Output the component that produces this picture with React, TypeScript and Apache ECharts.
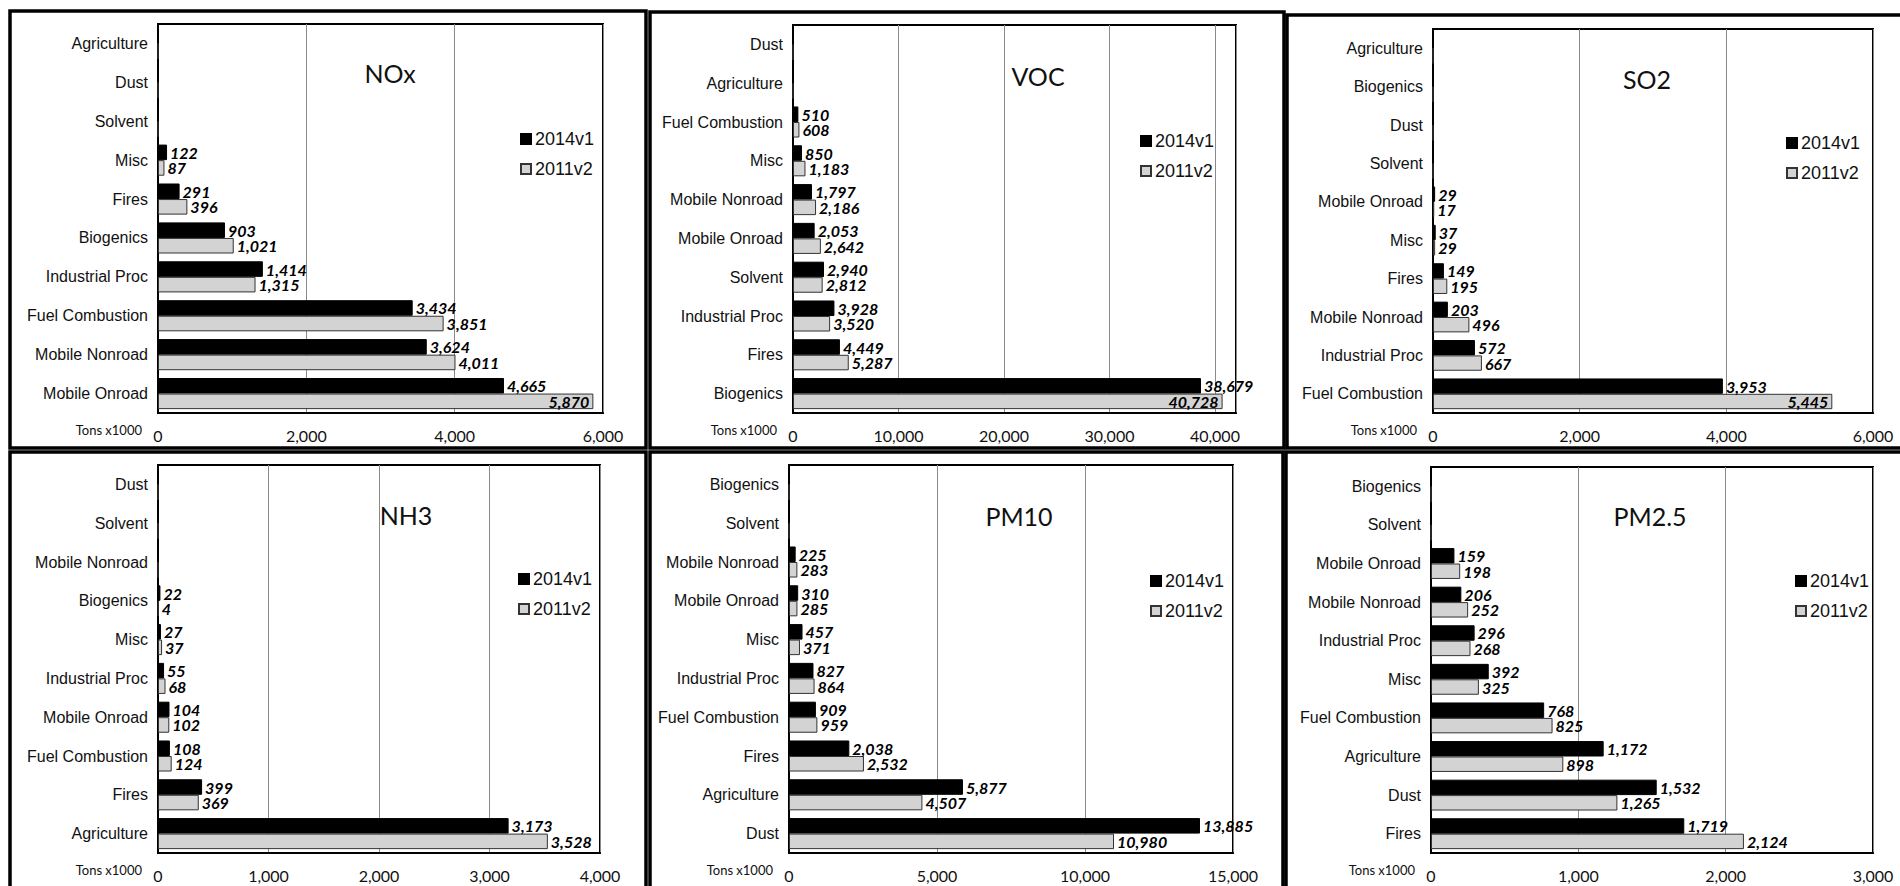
import React, { useEffect, useRef } from "react";
import * as echarts from "echarts";

// ---------- DATA (top-to-bottom order as displayed) ----------
const SERIES_NAMES = ["2014v1", "2011v2"];

const NOX_CATS = ["Agriculture", "Dust", "Solvent", "Misc", "Fires", "Biogenics", "Industrial Proc", "Fuel Combustion", "Mobile Nonroad", "Mobile Onroad"];
const NOX_2014 = [0, 0, 0, 122, 291, 903, 1414, 3434, 3624, 4665];
const NOX_2011 = [0, 0, 0, 87, 396, 1021, 1315, 3851, 4011, 5870];

const VOC_CATS = ["Dust", "Agriculture", "Fuel Combustion", "Misc", "Mobile Nonroad", "Mobile Onroad", "Solvent", "Industrial Proc", "Fires", "Biogenics"];
const VOC_2014 = [0, 0, 510, 850, 1797, 2053, 2940, 3928, 4449, 38679];
const VOC_2011 = [0, 0, 608, 1183, 2186, 2642, 2812, 3520, 5287, 40728];

const SO2_CATS = ["Agriculture", "Biogenics", "Dust", "Solvent", "Mobile Onroad", "Misc", "Fires", "Mobile Nonroad", "Industrial Proc", "Fuel Combustion"];
const SO2_2014 = [0, 0, 0, 0, 29, 37, 149, 203, 572, 3953];
const SO2_2011 = [0, 0, 0, 0, 17, 29, 195, 496, 667, 5445];

const NH3_CATS = ["Dust", "Solvent", "Mobile Nonroad", "Biogenics", "Misc", "Industrial Proc", "Mobile Onroad", "Fuel Combustion", "Fires", "Agriculture"];
const NH3_2014 = [0, 0, 0, 22, 27, 55, 104, 108, 399, 3173];
const NH3_2011 = [0, 0, 0, 4, 37, 68, 102, 124, 369, 3528];

const PM10_CATS = ["Biogenics", "Solvent", "Mobile Nonroad", "Mobile Onroad", "Misc", "Industrial Proc", "Fuel Combustion", "Fires", "Agriculture", "Dust"];
const PM10_2014 = [0, 0, 225, 310, 457, 827, 909, 2038, 5877, 13885];
const PM10_2011 = [0, 0, 283, 285, 371, 864, 959, 2532, 4507, 10980];

const PM25_CATS = ["Biogenics", "Solvent", "Mobile Onroad", "Mobile Nonroad", "Industrial Proc", "Misc", "Fuel Combustion", "Agriculture", "Dust", "Fires"];
const PM25_2014 = [0, 0, 159, 206, 296, 392, 768, 1172, 1532, 1719];
const PM25_2011 = [0, 0, 198, 252, 268, 325, 825, 898, 1265, 2124];

const UNIT_LABEL = "Tons x1000";

// ---------- LAYOUT / STYLE ----------
const PANELS = [
  { name: "NOx", cats: NOX_CATS, a: NOX_2014, b: NOX_2011, max: 6000, interval: 2000, inside: "Mobile Onroad",
    grid: { left: 158, top: 24, width: 445, height: 389 }, title: [390, 73], legend: [515, 125], frame: [10, 11, 636, 437] },
  { name: "VOC", cats: VOC_CATS, a: VOC_2014, b: VOC_2011, max: 42000, interval: 10000, inside: "Biogenics",
    grid: { left: 793, top: 25, width: 443, height: 388 }, title: [1038, 76], legend: [1135, 127], frame: [650, 12, 634, 436] },
  { name: "SO2", cats: SO2_CATS, a: SO2_2014, b: SO2_2011, max: 6000, interval: 2000, inside: "Fuel Combustion",
    grid: { left: 1433, top: 29, width: 440, height: 384 }, title: [1647, 79], legend: [1781, 129], frame: [1287, 15, 640, 433] },
  { name: "NH3", cats: NH3_CATS, a: NH3_2014, b: NH3_2011, max: 4000, interval: 1000, inside: "",
    grid: { left: 158, top: 465, width: 442, height: 388 }, title: [406, 515], legend: [513, 565], frame: [10, 452, 636, 460] },
  { name: "PM10", cats: PM10_CATS, a: PM10_2014, b: PM10_2011, max: 15000, interval: 5000, inside: "",
    grid: { left: 789, top: 465, width: 444, height: 388 }, title: [1019, 516], legend: [1145, 567], frame: [650, 452, 633, 460] },
  { name: "PM2.5", cats: PM25_CATS, a: PM25_2014, b: PM25_2011, max: 3000, interval: 1000, inside: "",
    grid: { left: 1431, top: 467, width: 442, height: 386 }, title: [1650, 516], legend: [1790, 567], frame: [1286, 452, 640, 460] },
];

const CAT_FONT = "'Liberation Sans', Arial, sans-serif";
const NUM_FONT = "Lato, 'Open Sans', sans-serif";

function fmt(v: number) {
  return Number(v).toLocaleString("en-US");
}

function buildOption() {
  const grids: any[] = [];
  const xAxes: any[] = [];
  const yAxes: any[] = [];
  const series: any[] = [];
  const legends: any[] = [];
  const graphics: any[] = [];

  PANELS.forEach((p, i) => {
    grids.push({ ...p.grid, show: true, borderColor: "#000", borderWidth: 2, backgroundColor: "#fff", containLabel: false });
    xAxes.push({
      type: "value", gridIndex: i, min: 0, max: p.max, interval: p.interval,
      axisLine: { show: true, lineStyle: { color: "#000", width: 2 } },
      axisTick: { show: false },
      splitLine: { show: true, lineStyle: { color: "#8a8a8a", width: 1 } },
      axisLabel: {
        show: true, margin: 14, fontFamily: NUM_FONT, fontSize: 16, color: "#111",
        formatter: (v: number) => (v % p.interval === 0 ? fmt(v) : ""),
        showMaxLabel: p.max % p.interval === 0,
      },
    });
    yAxes.push({
      type: "category", gridIndex: i, data: p.cats, inverse: true,
      axisLine: { show: true, lineStyle: { color: "#000", width: 2 } },
      axisTick: { show: false },
      axisLabel: { margin: 10, fontFamily: CAT_FONT, fontSize: 16, color: "#111" },
    });

    const mk = (vals: number[], isB: boolean) =>
      vals.map((v, k) =>
        isB && p.inside && p.cats[k] === p.inside
          ? { value: v, label: { position: "insideRight", distance: 4 } }
          : v
      );

    const labelCfg = {
      show: true, position: "right", distance: 3, fontFamily: NUM_FONT, fontSize: 16,
      fontWeight: "bold", fontStyle: "italic", color: "#000",
      formatter: (q: any) => (q.value ? fmt(q.value) : ""),
    };

    series.push({
      name: SERIES_NAMES[0], type: "bar", xAxisIndex: i, yAxisIndex: i,
      data: mk(p.a, false), barGap: "0%", barCategoryGap: "20%",
      itemStyle: { color: "#000", borderColor: "#000", borderWidth: 1 },
      label: labelCfg,
    });
    series.push({
      name: SERIES_NAMES[1], type: "bar", xAxisIndex: i, yAxisIndex: i,
      data: mk(p.b, true), barGap: "0%", barCategoryGap: "20%",
      itemStyle: { color: "#d3d3d3", borderColor: "#333", borderWidth: 1 },
      label: labelCfg,
    });

    legends.push({
      data: SERIES_NAMES, orient: "vertical", left: p.legend[0], top: p.legend[1],
      icon: "rect", itemWidth: 10, itemHeight: 10, itemGap: 12, selectedMode: false,
      textStyle: { fontFamily: CAT_FONT, fontSize: 18, color: "#111", padding: [0, 0, 0, -1] },
    });

    graphics.push({
      type: "text", x: p.title[0], y: p.title[1],
      style: { text: p.name, fontFamily: NUM_FONT, fontSize: 25, fill: "#111", textAlign: "center", textVerticalAlign: "middle" },
      z: 10,
    });
    graphics.push({
      type: "text", x: p.grid.left - 16, y: p.grid.top + p.grid.height + 17,
      style: { text: UNIT_LABEL, fontFamily: NUM_FONT, fontSize: 13, fill: "#111", textAlign: "right", textVerticalAlign: "middle" },
      z: 10,
    });
    graphics.push({
      type: "rect",
      shape: { x: p.frame[0], y: p.frame[1], width: p.frame[2], height: p.frame[3] },
      style: { fill: "none", stroke: "#000", lineWidth: 3.5 },
      z: 10,
    });
  });

  return {
    animation: false,
    backgroundColor: "#fff",
    grid: grids,
    xAxis: xAxes,
    yAxis: yAxes,
    series,
    legend: legends,
    graphic: graphics,
  };
}

export default function App() {
  const ref = useRef<HTMLDivElement>(null);
  useEffect(() => {
    if (!ref.current) return;
    const chart = echarts.init(ref.current, null, { renderer: "svg" });
    chart.setOption(buildOption() as any);
    return () => chart.dispose();
  }, []);
  return (
    <div
      ref={ref}
      style={{ position: "fixed", left: 0, top: 0, width: 1900, height: 886, background: "#fff" }}
    />
  );
}
